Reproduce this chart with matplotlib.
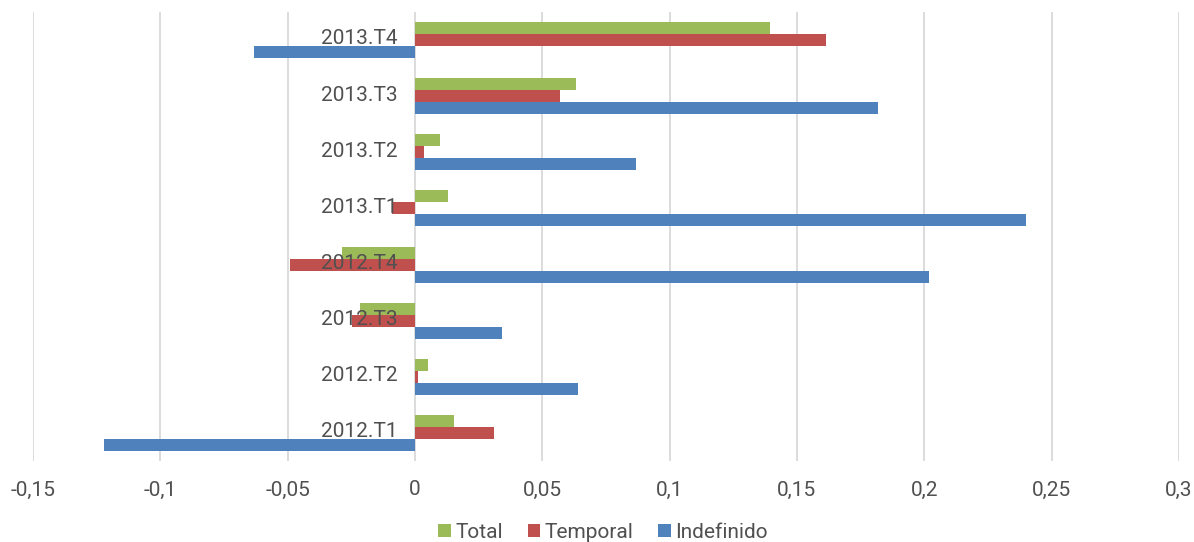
import matplotlib.pyplot as plt
import numpy as np

plt.rcParams['font.family'] = ['Roboto', 'DejaVu Sans']

# trimestres (de baixo para cima)
trimestres = ['2012.T1', '2012.T2', '2012.T3', '2012.T4',
              '2013.T1', '2013.T2', '2013.T3', '2013.T4']
total = [0.0153, 0.0051, -0.0216, -0.0287, 0.0130, 0.0098, 0.0632, 0.1394]
temporal = [0.0310, 0.0010, -0.0247, -0.0490, -0.0090, 0.0035, 0.0569, 0.1614]
indefinido = [-0.1221, 0.0640, 0.0342, 0.2020, 0.2400, 0.0868, 0.1818, -0.0632]
xticks = [-0.15, -0.1, -0.05, 0, 0.05, 0.1, 0.15, 0.2, 0.25, 0.3]

cor_texto = '#505050'
fig = plt.figure(figsize=(11.94, 5.42), dpi=100)
ax = fig.add_axes([33 / 1194, 1 - 461 / 542, 1146 / 1194, 449 / 542])

y = np.arange(len(trimestres))
h = 0.214
ax.barh(y + h, total, height=h, color='#9BBB59', label='Total', zorder=3)
ax.barh(y, temporal, height=h, color='#C0504D', label='Temporal', zorder=3)
ax.barh(y - h, indefinido, height=h, color='#4F81BD', label='Indefinido', zorder=3)

ax.set_xlim(-0.15, 0.3)
ax.set_ylim(-0.5, len(trimestres) - 0.5)
ax.set_xticks(xticks)
ax.set_xticklabels([('%g' % v).replace('.', ',') for v in xticks])
ax.tick_params(axis='x', length=0, pad=14, labelsize=15, labelcolor=cor_texto)
ax.set_yticks([])
ax.grid(axis='x', color='#D9D9D9', linewidth=1.3, zorder=0)
for s in ax.spines.values():
    s.set_visible(False)

# rótulos das categorias junto ao eixo zero, por cima das barras
for yi, nome in zip(y, trimestres):
    ax.text(-0.007, yi + 0.02, nome, ha='right', va='center', fontsize=15,
            color=cor_texto, zorder=4)

leg = fig.legend(loc='lower center', bbox_to_anchor=(0.505, -0.035), ncol=3,
                 frameon=False, fontsize=15, handlelength=0.6, handleheight=0.6,
                 handletextpad=0.2, columnspacing=1.2)
for t in leg.get_texts():
    t.set_color(cor_texto)

plt.savefig('out.png', dpi=100)
